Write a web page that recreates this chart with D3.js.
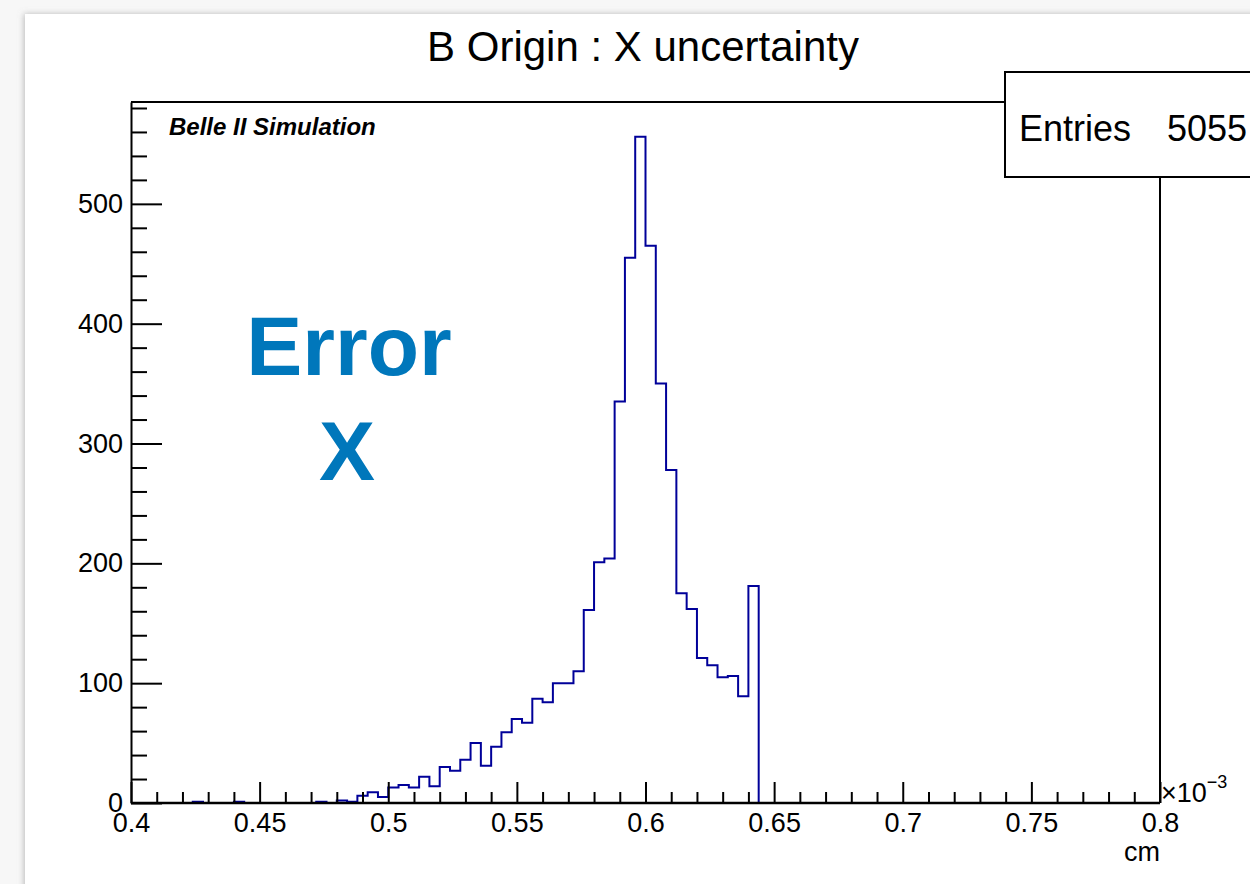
<!DOCTYPE html>
<html>
<head>
<meta charset="utf-8">
<script src="https://cdn.jsdelivr.net/npm/d3@7"></script>
<style>
  body { margin: 0; background: #f7f7f7; }
  text { font-family: "Liberation Sans", Arial, Helvetica, sans-serif; }
</style>
</head>
<body>
<div id="histo"></div>
<script>
// histogram: 100 bins from 0.4 to 0.8 (x 10^-3 cm)
var xMin = 0.4, xMax = 0.8, nBins = 100;
var counts = [
  0, 0, 0, 0, 0, 0, 1, 0, 0, 0,
  1, 0, 0, 0, 0, 0, 0, 0, 1, 0,
  2, 1, 6, 9, 5, 13, 15, 13, 22, 14,
  30, 27, 36, 50, 31, 47, 59, 70, 67, 87,
  84, 100, 100, 110, 161, 201, 204, 335, 455, 556,
  465, 350, 278, 175, 162, 121, 115, 105, 106, 89,
  181, 0, 0, 0, 0, 0, 0, 0, 0, 0,
  0, 0, 0, 0, 0, 0, 0, 0, 0, 0,
  0, 0, 0, 0, 0, 0, 0, 0, 0, 0,
  0, 0, 0, 0, 0, 0, 0, 0, 0, 0
];
var entries = 5055;
var xTicks = [0.4, 0.45, 0.5, 0.55, 0.6, 0.65, 0.7, 0.75, 0.8];
var xTickLabels = ["0.4", "0.45", "0.5", "0.55", "0.6", "0.65", "0.7", "0.75", "0.8"];
var yTicks = [0, 100, 200, 300, 400, 500];
var yMax = 585;

var W = 1250, H = 884;
var frame = { left: 131, right: 1160, top: 102, bottom: 803 };

var svg = d3.select("#histo")
  .append("svg")
  .attr("width", W)
  .attr("height", H);

// canvas with a soft shadow
var defs = svg.append("defs");
defs.append("filter")
  .attr("id", "shadow")
  .attr("x", "-5%").attr("y", "-5%").attr("width", "110%").attr("height", "110%")
  .append("feDropShadow")
  .attr("dx", -1).attr("dy", 0)
  .attr("stdDeviation", 3)
  .attr("flood-color", "#888")
  .attr("flood-opacity", 0.55);

svg.append("rect")
  .attr("x", 25).attr("y", 14)
  .attr("width", W).attr("height", H)
  .attr("fill", "#fff")
  .attr("filter", "url(#shadow)");

var x = d3.scaleLinear().domain([xMin, xMax]).range([frame.left, frame.right]);
var y = d3.scaleLinear().domain([0, yMax]).range([frame.bottom, frame.top]);

// title
svg.append("text")
  .attr("x", 643).attr("y", 61)
  .attr("text-anchor", "middle")
  .style("font-size", "42px")
  .text("B Origin : X uncertainty");

// histogram outline
var binW = (xMax - xMin) / nBins;
var pts = counts.map(function (c, i) { return [xMin + i * binW, c]; });
pts.push([xMax, counts[nBins - 1]]);

var line = d3.line()
  .x(function (d) { return x(d[0]); })
  .y(function (d) { return y(d[1]); })
  .curve(d3.curveStepAfter);

svg.append("path")
  .datum(pts)
  .attr("d", line)
  .attr("fill", "none")
  .attr("stroke", "#000099")
  .attr("stroke-width", 2);

// frame top/right
svg.append("path")
  .attr("d", "M" + frame.left + "," + frame.top + "H" + frame.right + "V" + frame.bottom)
  .attr("fill", "none")
  .attr("stroke", "#000")
  .attr("stroke-width", 2);

// x axis
var minorX = d3.range(0, 41).map(function (i) { return xMin + i * 0.01; })
  .filter(function (v) { return Math.abs(Math.round(v * 20) - v * 20) > 1e-6; });

svg.append("g")
  .attr("transform", "translate(0," + frame.bottom + ")")
  .call(d3.axisBottom(x).tickValues(minorX).tickFormat("").tickSize(-11).tickSizeOuter(0))
  .call(function (g) { g.select(".domain").remove(); })
  .selectAll("line").attr("stroke-width", 2);

var gx = svg.append("g")
  .attr("transform", "translate(0," + frame.bottom + ")")
  .call(d3.axisBottom(x)
    .tickValues(xTicks)
    .tickFormat(function (d, i) { return xTickLabels[i]; })
    .tickSize(-21).tickSizeOuter(0).tickPadding(10));
gx.selectAll("line").attr("stroke-width", 2);
gx.select(".domain").remove();
gx.selectAll("text")
  .style("font-size", "27px")
  .attr("fill", "#000");

// baseline drawn over the empty bins
svg.append("line")
  .attr("x1", frame.left).attr("x2", frame.right)
  .attr("y1", frame.bottom).attr("y2", frame.bottom)
  .attr("stroke", "#000")
  .attr("stroke-width", 2.5);

// y axis
var minorY = d3.range(0, yMax, 20).filter(function (v) { return v % 100 !== 0; });

svg.append("g")
  .attr("transform", "translate(" + frame.left + ",0)")
  .call(d3.axisLeft(y).tickValues(minorY).tickFormat("").tickSize(-16).tickSizeOuter(0))
  .call(function (g) { g.select(".domain").remove(); })
  .selectAll("line").attr("stroke-width", 2);

var gy = svg.append("g")
  .attr("transform", "translate(" + frame.left + ",0)")
  .call(d3.axisLeft(y).tickValues(yTicks).tickSize(-31).tickSizeOuter(0).tickPadding(8));
gy.selectAll("line").attr("stroke-width", 2);
gy.select(".domain").attr("stroke-width", 2);
gy.selectAll("text")
  .style("font-size", "27px")
  .attr("fill", "#000");

// exponent and unit
var expo = svg.append("text")
  .attr("x", 1161).attr("y", 802)
  .style("font-size", "27px");
expo.append("tspan").text("\u00d710");
expo.append("tspan")
  .attr("dy", -14)
  .style("font-size", "18px")
  .text("\u22123");

svg.append("text")
  .attr("x", 1160).attr("y", 861)
  .attr("text-anchor", "end")
  .style("font-size", "27px")
  .text("cm");

// labels inside the frame
svg.append("text")
  .attr("x", 169).attr("y", 135)
  .style("font-size", "24px")
  .style("font-weight", "bold")
  .style("font-style", "italic")
  .text("Belle II Simulation");

svg.append("text")
  .attr("x", 349).attr("y", 375)
  .attr("text-anchor", "middle")
  .attr("fill", "#0077bb")
  .style("font-size", "84px")
  .style("font-weight", "bold")
  .text("Error");

svg.append("text")
  .attr("x", 347).attr("y", 480)
  .attr("text-anchor", "middle")
  .attr("fill", "#0077bb")
  .style("font-size", "84px")
  .style("font-weight", "bold")
  .text("X");

// stats box
svg.append("rect")
  .attr("x", 1005).attr("y", 72)
  .attr("width", 300).attr("height", 105)
  .attr("fill", "#fff")
  .attr("stroke", "#000")
  .attr("stroke-width", 2);

svg.append("text")
  .attr("x", 1019).attr("y", 141)
  .style("font-size", "36px")
  .text("Entries");

svg.append("text")
  .attr("x", 1247).attr("y", 141)
  .attr("text-anchor", "end")
  .style("font-size", "36px")
  .text(entries);
</script>
</body>
</html>
